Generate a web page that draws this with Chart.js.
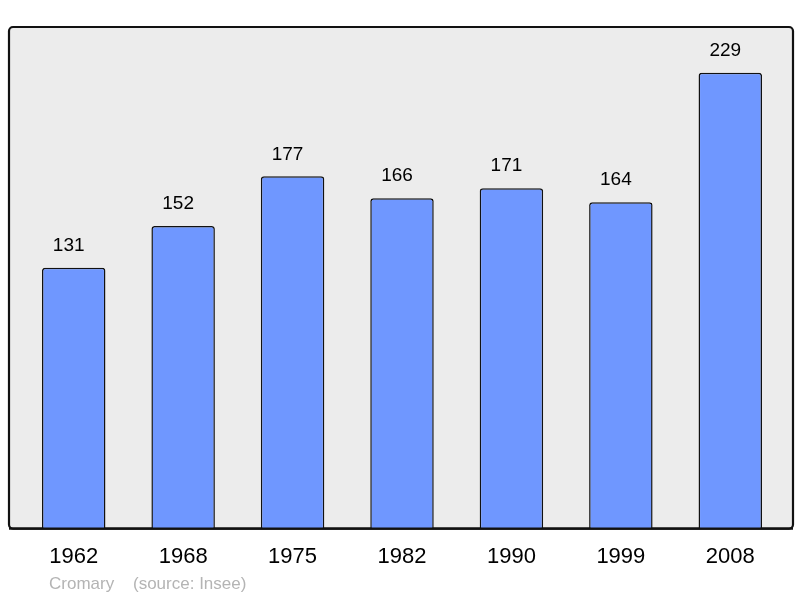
<!DOCTYPE html>
<html>
<head>
<meta charset="utf-8">
<script src="https://cdn.jsdelivr.net/npm/chart.js@4/dist/chart.umd.min.js"></script>
<style>
  html, body { margin: 0; padding: 0; background: #fff; }
  canvas { display: block; }
</style>
</head>
<body>
<canvas id="popChart" width="800" height="598"></canvas>
<script>
// Population data
const years = ['1962', '1968', '1975', '1982', '1990', '1999', '2008'];
const population = [131, 152, 177, 166, 171, 164, 229];
const townName = 'Cromary';
const sourceNote = '(source: Insee)';

const FONT = '"Liberation Sans", Arial, sans-serif';

/**
 * Grey panel with a dark rounded border behind the bars
 */
const panelPlugin = {
    id: 'panel',
    beforeDatasetsDraw(chart) {
        const { ctx, chartArea } = chart;
        const x = chartArea.left - 10;
        const y = chartArea.top;
        const w = chartArea.right + 8 - x;
        const h = chartArea.bottom - y;
        ctx.save();
        ctx.beginPath();
        ctx.roundRect(x, y, w, h, 4);
        ctx.fillStyle = '#ececec';
        ctx.fill();
        ctx.lineWidth = 2.2;
        ctx.strokeStyle = '#111';
        ctx.stroke();
        ctx.restore();
    },
    afterDatasetsDraw(chart) {
        const { ctx, chartArea } = chart;
        // redraw bottom edge on top of bar borders
        ctx.save();
        ctx.beginPath();
        ctx.moveTo(chartArea.left - 10, chartArea.bottom);
        ctx.lineTo(chartArea.right + 8, chartArea.bottom);
        ctx.lineWidth = 2.2;
        ctx.strokeStyle = '#111';
        ctx.stroke();
        ctx.restore();
    }
};

/**
 * Value labels above bars + footer text
 */
const labelsPlugin = {
    id: 'valueLabels',
    afterDraw(chart) {
        const { ctx } = chart;
        const meta = chart.getDatasetMeta(0);
        ctx.save();
        ctx.fillStyle = '#000';
        ctx.font = '19px ' + FONT;
        ctx.textAlign = 'center';
        ctx.textBaseline = 'middle';
        meta.data.forEach((bar, i) => {
            ctx.fillText(String(population[i]), bar.x - 5, bar.y - 22);
        });

        ctx.fillStyle = '#b4b4b4';
        ctx.font = '17px ' + FONT;
        ctx.textAlign = 'left';
        ctx.fillText(townName, 49, 584);
        ctx.fillText(sourceNote, 133, 584);
        ctx.restore();
    }
};

new Chart(document.getElementById('popChart'), {
    type: 'bar',
    data: {
        labels: years,
        datasets: [{
            data: population,
            backgroundColor: '#6f97ff',
            borderColor: '#111',
            borderWidth: 1.5,
            borderRadius: { topLeft: 3, topRight: 3 },
            borderSkipped: 'bottom',
            categoryPercentage: 1,
            barPercentage: 0.58
        }]
    },
    options: {
        responsive: false,
        animation: false,
        layout: {
            padding: { left: 19, right: 15, top: 27, bottom: 13 }
        },
        plugins: {
            legend: { display: false },
            tooltip: { enabled: false }
        },
        scales: {
            y: {
                display: false,
                min: 0,
                max: 252
            },
            x: {
                grid: { display: false, drawTicks: false },
                border: { display: false },
                ticks: {
                    color: '#000',
                    padding: 15,
                    font: { family: FONT, size: 22 }
                }
            }
        }
    },
    plugins: [panelPlugin, labelsPlugin]
});
</script>
</body>
</html>
